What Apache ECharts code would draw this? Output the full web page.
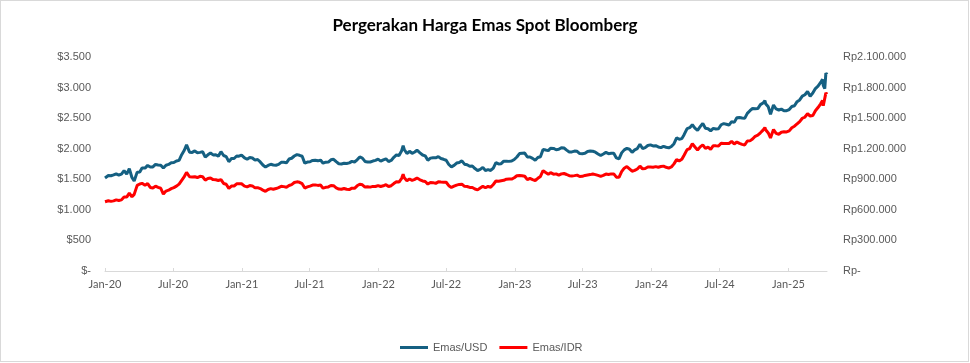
<!DOCTYPE html>
<html>
<head>
<meta charset="utf-8">
<script src="https://cdn.jsdelivr.net/npm/echarts@6/dist/echarts.min.js"></script>
<style>
  html, body { margin: 0; padding: 0; background: #fff; }
  #chart { position: absolute; left: 0; top: 0; width: 970px; height: 363px; }
  #frame { position: absolute; left: 0; top: 0; width: 967px; height: 360px; border: 1px solid #d9d9d9; pointer-events: none; }
</style>
</head>
<body>
<div id="chart"></div>
<div id="frame"></div>
<script>
// ---- data (weekly readings, USD per troy ounce and IDR per gram) ----
const dates = [
  '2020-01-01','2020-01-03','2020-01-10','2020-01-17','2020-01-24','2020-01-31','2020-02-07','2020-02-14','2020-02-21','2020-02-28','2020-03-06','2020-03-13','2020-03-19','2020-03-27','2020-04-03','2020-04-09','2020-04-17','2020-04-24','2020-05-01','2020-05-08','2020-05-15','2020-05-22','2020-05-29','2020-06-05','2020-06-12','2020-06-19','2020-06-26','2020-07-03','2020-07-10','2020-07-17','2020-07-24','2020-07-31','2020-08-06','2020-08-14','2020-08-21','2020-08-28','2020-09-04','2020-09-11','2020-09-18','2020-09-25','2020-10-02','2020-10-09','2020-10-16','2020-10-23','2020-10-30','2020-11-06','2020-11-13','2020-11-20','2020-11-27','2020-12-04','2020-12-11','2020-12-18','2020-12-24','2020-12-31',
  '2021-01-08','2021-01-15','2021-01-22','2021-01-29','2021-02-05','2021-02-12','2021-02-19','2021-02-26','2021-03-05','2021-03-12','2021-03-19','2021-03-26','2021-04-02','2021-04-09','2021-04-16','2021-04-23','2021-04-30','2021-05-07','2021-05-14','2021-05-21','2021-05-28','2021-06-04','2021-06-11','2021-06-18','2021-06-25','2021-07-02','2021-07-09','2021-07-16','2021-07-23','2021-07-30','2021-08-06','2021-08-13','2021-08-20','2021-08-27','2021-09-03','2021-09-10','2021-09-17','2021-09-24','2021-10-01','2021-10-08','2021-10-15','2021-10-22','2021-10-29','2021-11-05','2021-11-12','2021-11-19','2021-11-26','2021-12-03','2021-12-10','2021-12-17','2021-12-24','2021-12-31',
  '2022-01-07','2022-01-14','2022-01-21','2022-01-28','2022-02-04','2022-02-11','2022-02-18','2022-02-25','2022-03-04','2022-03-08','2022-03-11','2022-03-18','2022-03-25','2022-04-01','2022-04-08','2022-04-14','2022-04-22','2022-04-29','2022-05-06','2022-05-13','2022-05-20','2022-05-27','2022-06-03','2022-06-10','2022-06-17','2022-06-24','2022-07-01','2022-07-08','2022-07-15','2022-07-22','2022-07-29','2022-08-05','2022-08-12','2022-08-19','2022-08-26','2022-09-02','2022-09-09','2022-09-16','2022-09-23','2022-09-30','2022-10-07','2022-10-14','2022-10-21','2022-10-28','2022-11-04','2022-11-11','2022-11-18','2022-11-25','2022-12-02','2022-12-09','2022-12-16','2022-12-23','2022-12-30',
  '2023-01-06','2023-01-13','2023-01-20','2023-01-27','2023-02-03','2023-02-10','2023-02-17','2023-02-24','2023-03-03','2023-03-10','2023-03-17','2023-03-24','2023-03-31','2023-04-06','2023-04-14','2023-04-21','2023-04-28','2023-05-05','2023-05-12','2023-05-19','2023-05-26','2023-06-02','2023-06-09','2023-06-16','2023-06-23','2023-06-30','2023-07-07','2023-07-14','2023-07-21','2023-07-28','2023-08-04','2023-08-11','2023-08-18','2023-08-25','2023-09-01','2023-09-08','2023-09-15','2023-09-22','2023-09-29','2023-10-06','2023-10-13','2023-10-20','2023-10-27','2023-11-03','2023-11-10','2023-11-17','2023-11-24','2023-12-01','2023-12-08','2023-12-15','2023-12-22','2023-12-29',
  '2024-01-05','2024-01-12','2024-01-19','2024-01-26','2024-02-02','2024-02-09','2024-02-16','2024-02-23','2024-03-01','2024-03-08','2024-03-15','2024-03-22','2024-03-28','2024-04-05','2024-04-12','2024-04-19','2024-04-26','2024-05-03','2024-05-10','2024-05-17','2024-05-24','2024-05-31','2024-06-07','2024-06-14','2024-06-21','2024-06-28','2024-07-05','2024-07-12','2024-07-19','2024-07-26','2024-08-02','2024-08-09','2024-08-16','2024-08-23','2024-08-30','2024-09-06','2024-09-13','2024-09-20','2024-09-27','2024-10-04','2024-10-11','2024-10-18','2024-10-25','2024-10-30','2024-11-01','2024-11-08','2024-11-14','2024-11-22','2024-11-29','2024-12-06','2024-12-13','2024-12-20','2024-12-27',
  '2025-01-03','2025-01-10','2025-01-17','2025-01-24','2025-01-31','2025-02-07','2025-02-14','2025-02-21','2025-02-28','2025-03-07','2025-03-14','2025-03-21','2025-03-28','2025-04-02','2025-04-04','2025-04-08','2025-04-11','2025-04-14'
];
const usdValues = [
  1520,1552,1562,1557,1571,1589, 1570,1584,1643,1585, 1674,1530,1472,1617, 1620,1683,1683,1727, 1700,1702,1743,1735,1730, 1683,1730,1743,1771, 1774,1799,1810,1902,1975, 2063,1944,1940,1964, 1934,1940,1950,1862, 1900,1930,1899,1902,1879, 1951,1889,1871,1788, 1839,1840,1881,1877,1895,
  1850,1828,1856,1848, 1814,1824,1784,1734, 1700,1727,1745,1733, 1729,1744,1777,1777,1769, 1831,1844,1881,1903, 1892,1877,1764,1781, 1787,1808,1812,1802,1814, 1763,1780,1781,1818, 1827,1788,1754,1750, 1761,1757,1768,1793,1783, 1818,1865,1846,1792, 1783,1783,1798,1809,1829,
  1797,1818,1835,1791, 1808,1859,1898,1889, 1966,2050,1988,1921,1958, 1925,1946,1975,1932,1897, 1883,1811,1846,1853, 1851,1871,1840,1827, 1811,1742,1703,1727,1766, 1775,1802,1747,1737, 1712,1717,1675,1644,1661, 1695,1644,1657,1644, 1681,1771,1751,1755, 1797,1797,1793,1798,1824,
  1865,1920,1926,1928, 1865,1865,1842,1811, 1856,1868,1989,1978,1969, 2007,2004,1983,1990, 2017,2011,1977,1946, 1948,1961,1958,1921,1919, 1925,1955,1962,1959, 1943,1914,1889,1914, 1940,1919,1924,1925,1849, 1833,1932,1981,2006, 1992,1940,1981,2002, 2072,2004,2019,2053,2063,
  2045,2049,2029,2018, 2039,2024,2013,2036, 2083,2179,2155,2165,2230, 2329,2344,2392,2337, 2301,2360,2415,2334,2327, 2293,2333,2322,2326, 2392,2411,2400,2387, 2443,2431,2507,2512,2503, 2497,2578,2622,2658, 2653,2657,2721,2747,2788, 2736,2685,2563,2715,2650, 2633,2648,2622,2621,
  2640,2690,2703,2770,2798, 2861,2883,2936,2858, 2910,2984,3023,3084, 3134,3037,2982,3237,3211
];
const idrValues = [
  679000,692000,689000,683000,688000,698000, 692000,698000,727000,725000, 764000,728000,752000,840000, 854000,860000,841000,858000, 820000,815000,832000,820000,812000, 755000,784000,793000,808000, 818000,833000,853000,890000,927000, 968000,925000,923000,925000, 917000,929000,925000,892000, 907000,912000,897000,896000,888000, 897000,859000,851000,811000, 834000,834000,856000,857000,856000,
  833000,826000,838000,835000, 816000,818000,809000,794000, 782000,800000,808000,802000, 809000,819000,831000,828000,822000, 839000,848000,868000,875000, 870000,857000,814000,825000, 833000,843000,845000,840000,843000, 813000,821000,825000,839000, 837000,816000,804000,802000, 810000,802000,799000,813000,811000, 836000,851000,846000,824000, 826000,823000,830000,829000,838000,
  829000,836000,847000,829000, 837000,858000,876000,873000, 909000,949000,914000,886000,903000, 889000,899000,912000,895000,884000, 878000,853000,869000,867000, 860000,875000,873000,872000, 871000,837000,820000,832000,843000, 850000,852000,831000,829000, 820000,820000,805000,796000,814000, 831000,817000,831000,822000, 849000,883000,881000,886000, 890000,901000,902000,902000,915000,
  935000,938000,935000,930000, 896000,908000,897000,888000, 910000,928000,985000,967000,950000, 965000,950000,953000,940000, 953000,957000,947000,935000, 933000,936000,941000,927000,929000, 938000,942000,946000,951000, 946000,938000,929000,938000, 951000,947000,953000,953000,921000, 919000,975000,1009000,1025000, 1002000,979000,987000,1001000, 1029000,1002000,1006000,1020000,1021000,
  1019000,1024000,1018000,1025000, 1029000,1018000,1010000,1021000, 1051000,1093000,1081000,1096000,1136000, 1191000,1202000,1250000,1217000, 1187000,1218000,1238000,1204000,1216000, 1194000,1230000,1228000,1227000, 1254000,1252000,1250000,1251000, 1272000,1247000,1266000,1252000,1243000, 1236000,1276000,1277000,1295000, 1322000,1333000,1356000,1382000,1407000, 1386000,1355000,1306000,1388000,1350000, 1342000,1362000,1366000,1365000,
  1375000,1406000,1421000,1443000,1466000, 1499000,1511000,1543000,1521000, 1525000,1573000,1604000,1641000, 1673000,1621000,1615000,1748000,1734000
];
const tickDates  = ['2020-01-01','2020-07-01','2021-01-01','2021-07-01','2022-01-01','2022-07-01','2023-01-01','2023-07-01','2024-01-01','2024-07-01','2025-01-01'];
const tickLabels = ['Jan-20','Jul-20','Jan-21','Jul-21','Jan-22','Jul-22','Jan-23','Jul-23','Jan-24','Jul-24','Jan-25'];
const axisStart = '2020-01-01';
const axisEnd = '2025-04-14';
const seriesNames = ['Emas/USD', 'Emas/IDR'];
const titleText = 'Pergerakan Harga Emas Spot Bloomberg';

// ---- helpers ----
function ts(s) { const p = s.split('-').map(Number); return Date.UTC(p[0], p[1] - 1, p[2]); }
function dots(v) { return String(Math.round(v)).replace(/\B(?=(\d{3})+(?!\d))/g, '.'); }
const tickTs = tickDates.map(ts);

const chart = echarts.init(document.getElementById('chart'), null, { renderer: 'canvas' });
chart.setOption({
  animation: false,
  backgroundColor: '#ffffff',
  title: {
    text: titleText, left: 'center', top: 12,
    textStyle: { fontFamily: 'Lato', fontWeight: 'bold', fontSize: 17, color: '#000000' }
  },
  legend: {
    data: seriesNames, left: 395, top: 337, icon: 'rect', itemWidth: 28, itemHeight: 3, itemGap: 12,
    textStyle: { fontFamily: 'Liberation Sans', fontSize: 11, color: '#595959' }
  },
  grid: { left: 105, right: 143, top: 57, bottom: 92, containLabel: false },
  xAxis: {
    type: 'value', min: ts(axisStart), max: ts(axisEnd),
    axisLine: { show: true, lineStyle: { color: '#d9d9d9', width: 1 } },
    axisTick: { show: true, inside: true, length: 3, customValues: tickTs, lineStyle: { color: '#d9d9d9' } },
    axisLabel: {
      customValues: tickTs, margin: 8, color: '#595959', fontFamily: 'Lato', fontSize: 11,
      formatter: function (v) { const i = tickTs.indexOf(v); return i >= 0 ? tickLabels[i] : ''; }
    },
    splitLine: { show: false }
  },
  yAxis: [
    {
      type: 'value', position: 'left', min: 0, max: 3500, interval: 500,
      axisLine: { show: false }, axisTick: { show: false }, splitLine: { show: false },
      axisLabel: { margin: 14, color: '#595959', fontFamily: 'Liberation Sans', fontSize: 11,
        formatter: function (v) { return v === 0 ? '$-' : '$' + dots(v); } }
    },
    {
      type: 'value', position: 'right', min: 0, max: 2100000, interval: 300000,
      axisLine: { show: false }, axisTick: { show: false }, splitLine: { show: false },
      axisLabel: { margin: 16, color: '#595959', fontFamily: 'Liberation Sans', fontSize: 11,
        formatter: function (v) { return v === 0 ? 'Rp-' : 'Rp' + dots(v); } }
    }
  ],
  series: [
    {
      name: seriesNames[0], type: 'line', yAxisIndex: 0, showSymbol: false, symbol: 'none',
      lineStyle: { width: 3, color: '#156082' }, itemStyle: { color: '#156082' },
      data: dates.map(function (d, i) { return [ts(d), usdValues[i]]; })
    },
    {
      name: seriesNames[1], type: 'line', yAxisIndex: 1, showSymbol: false, symbol: 'none',
      lineStyle: { width: 3, color: '#FF0000' }, itemStyle: { color: '#FF0000' },
      data: dates.map(function (d, i) { return [ts(d), idrValues[i]]; })
    }
  ]
});
</script>
</body>
</html>
